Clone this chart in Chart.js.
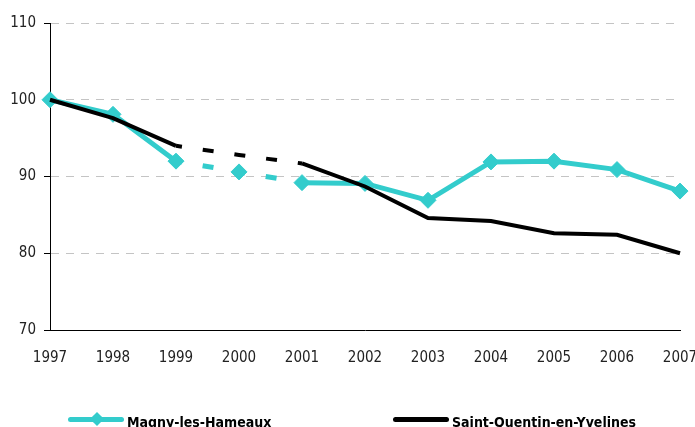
<!DOCTYPE html>
<html>
<head>
<meta charset="utf-8">
<script src="https://cdn.jsdelivr.net/npm/chart.js@4"></script>
<style>
  body { margin: 0; background: #fff; }
  .wrap { position: relative; width: 695px; height: 427px; overflow: hidden; }
  .legend { position: absolute; top: 410px; left: 0; width: 695px; height: 20px;
    font: bold 14px "DejaVu Sans Condensed", "Liberation Sans", Arial, sans-serif; color: #000; }
  .item { position: absolute; top: 0; height: 18px; display: flex; align-items: center; }
  .item span { position: relative; top: 3px; }
  .swatch { position: relative; width: 56px; height: 5px; margin-right: 3px; border-radius: 3px; }
  .diamond { position: absolute; left: 24px; top: -3px; width: 10px; height: 10px; transform: rotate(45deg); }
</style>
</head>
<body>
<div class="wrap">
  <canvas id="chart" width="695" height="427"></canvas>
  <div class="legend" id="legend"></div>
</div>
<script>
const years = ['1997', '1998', '1999', '2000', '2001', '2002', '2003', '2004', '2005', '2006', '2007'];
const magny = [100, 98.1, 92.0, 90.6, 89.2, 89.1, 86.9, 91.9, 92.0, 90.9, 88.1];
const sqy = [100, 97.6, 94.0, 92.8, 91.7, 88.7, 84.6, 84.2, 82.6, 82.4, 80.0];
const yTicks = [70, 80, 90, 100, 110];

const tealColor = '#33cccc';
const tickFont = { family: '"DejaVu Sans Condensed", "Liberation Sans", Arial, sans-serif', size: 15 };

// 1999 -> 2001 is drawn dashed on both series
const dashed = ctx => (ctx.p0DataIndex >= 2 && ctx.p1DataIndex <= 4) ? [11, 21] : undefined;

const ctx = document.getElementById('chart').getContext('2d');
new Chart(ctx, {
  type: 'line',
  data: {
    labels: years,
    datasets: [
      {
        label: 'Saint-Quentin-en-Yvelines',
        data: sqy,
        borderColor: '#000',
        backgroundColor: '#000',
        borderWidth: 4,
        borderCapStyle: 'butt',
        pointRadius: 0,
        tension: 0,
        clip: false,
        segment: { borderDash: dashed, borderDashOffset: () => 5 }
      },
      {
        label: 'Magny-les-Hameaux',
        data: magny,
        borderColor: tealColor,
        backgroundColor: tealColor,
        borderWidth: 5,
        borderCapStyle: 'butt',
        pointStyle: 'rectRot',
        pointRadius: 8,
        pointBorderWidth: 1,
        pointBackgroundColor: tealColor,
        pointBorderColor: tealColor,
        tension: 0,
        clip: false,
        segment: { borderDash: dashed, borderDashOffset: () => 5 }
      }
    ]
  },
  options: {
    responsive: false,
    animation: false,
    layout: { padding: { top: 23, right: 15, bottom: 57, left: 0 } },
    plugins: { legend: { display: false }, tooltip: { enabled: false } },
    scales: {
      x: {
        offset: false,
        grid: { display: false, drawOnChartArea: false, drawTicks: true, tickLength: 6, tickColor: '#000' },
        border: { color: '#000', width: 1 },
        ticks: { color: '#222', font: tickFont, padding: 13, maxRotation: 0 },
        afterFit: s => { s.height = 40; s.paddingLeft = 0; s.paddingRight = 0; }
      },
      y: {
        min: 70,
        max: 110,
        afterBuildTicks: s => { s.ticks = yTicks.map(v => ({ value: v })); },
        grid: {
          color: '#c4c4c4',
          tickColor: '#000',
          tickLength: 6
        },
        border: { color: '#000', width: 1, dash: [8, 7] },
        ticks: { color: '#222', font: tickFont, padding: 8 },
        afterFit: s => { s.width = 50; s.paddingTop = 0; s.paddingBottom = 0; }
      }
    }
  }
});

// html legend, built from the same series
const legendItems = [
  { label: 'Magny-les-Hameaux', color: tealColor, marker: true, left: 68 },
  { label: 'Saint-Quentin-en-Yvelines', color: '#000', marker: false, left: 393 }
];
const legendEl = document.getElementById('legend');
legendItems.forEach(it => {
  const item = document.createElement('div');
  item.className = 'item';
  item.style.left = it.left + 'px';
  const sw = document.createElement('div');
  sw.className = 'swatch';
  sw.style.background = it.color;
  if (it.marker) {
    const d = document.createElement('div');
    d.className = 'diamond';
    d.style.background = it.color;
    sw.appendChild(d);
  }
  const txt = document.createElement('span');
  txt.textContent = it.label;
  item.appendChild(sw);
  item.appendChild(txt);
  legendEl.appendChild(item);
});
</script>
</body>
</html>
